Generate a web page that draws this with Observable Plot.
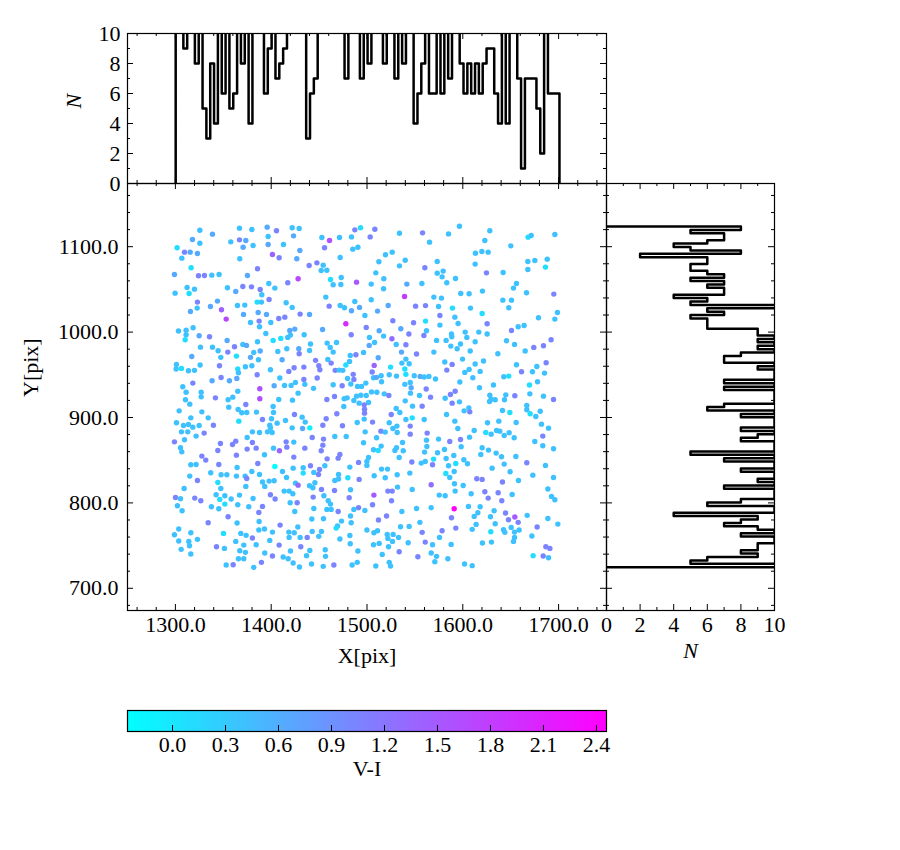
<!DOCTYPE html>
<html><head><meta charset="utf-8">
<script src="https://cdn.jsdelivr.net/npm/d3@7"></script>
<script src="https://cdn.jsdelivr.net/npm/@observablehq/plot@0.6"></script>
<style>
html,body{margin:0;padding:0;background:#fff;}
#fig{position:relative;width:900px;height:850px;}
#fig svg{position:absolute;left:0;top:0;}
</style></head><body><div id="fig"></div>
<script>
// ---------- DATA ----------
// stars: [X pix, Y pix, V-I]
const stars = [
[1325.5,1119.3,.4],[1338.7,1114.7,.65],[1366.9,1121.7,.4],[1379.8,1120.1,.4],[1395.8,1122.9,.65],[1405.5,1118.6,1.05],[1421.9,1122.1,.4],[1429.2,1121.3,.4],
[1317.8,1108.4,.65],[1325.5,1104.1,.4],[1357.8,1105.7,.4],[1366.9,1108.0,1.05],[1373.5,1107.3,.65],[1396.8,1111.9,.4],[1423.3,1112.7,.65],[1370.7,1099.4,.65],[1381.1,1101.4,.4],[1396.8,1102.6,.65],[1412.8,1102.6,.4],[1301.8,1098.7,.1],
[1309.5,1093.6,1.05],[1315.4,1093.6,.65],[1323.0,1092.0,.65],[1306.7,1086.6,.4],[1367.2,1085.8,.4],[1401.3,1090.9,1.4],[1408.3,1087.0,1.05],[1426.7,1085.8,.65],[1429.9,1095.5,.65],
[1316.4,1075.3,.1],[1299.0,1067.5,.65],[1324.1,1065.9,1.05],[1330.3,1066.3,1.05],[1338.0,1066.7,.4],[1345.6,1067.5,.4],[1375.2,1066.3,.65],[1385.7,1074.1,1.05],[1428.1,1062.4,1.7],[1417.3,1057.7,1.05],
[1312.2,1052.3,.4],[1319.9,1050.3,.4],[1299.7,1045.6,.4],[1314.3,1045.2,.1],[1354.3,1051.9,.4],[1363.0,1047.6,.65],[1370.4,1053.4,1.05],[1379.4,1053.0,1.05],[1388.5,1049.9,1.05],[1397.5,1056.9,.4],[1403.8,1051.5,.4],[1390.2,1043.7,.4],
[1323.0,1035.1,1.05],[1322.7,1028.1,.4],[1315.7,1024.2,.65],[1336.6,1030.0,.65],[1343.9,1036.3,.65],[1348.1,1026.1,1.4],[1364.8,1031.2,.4],[1372.4,1031.6,.4],[1385.3,1035.1,.1],[1389.8,1035.1,.4],[1397.8,1038.2,1.05],[1415.6,1034.3,.4],[1421.9,1028.9,.4],
[1371.1,1020.7,.65],[1386.4,1023.0,.65],[1395.1,1020.7,.65],[1430.2,1021.1,1.05],[1407.9,1016.0,1.05],[1414.2,1017.5,1.05],[1353.0,1015.2,1.7],
[1378.4,1011.3,.4],[1387.4,1012.9,1.05],[1399.6,1011.3,.4],[1387.8,1006.2,.4],[1318.5,1005.1,.4],[1303.2,1001.2,.4],[1311.2,1002.3,.4],[1311.2,996.9,.4],[1310.2,991.0,.1],[1324.8,995.7,.65],[1335.6,994.5,1.05],[1354.0,990.2,.65],[1394.4,998.4,.4],[1402.0,990.2,.1],[1410.0,992.6,.1],[1417.3,993.8,.4],[1420.1,996.5,.4],[1419.4,1002.0,.65],[1424.6,1003.5,.65],
[1370.4,985.6,.4],[1374.2,984.4,.65],[1385.7,988.7,.4],[1326.2,982.4,.4],[1338.7,982.4,.4],[1344.6,978.2,.4],[1361.7,982.8,1.05],[1354.7,976.6,1.05],[1381.8,976.2,.4],[1388.5,977.8,.65],[1406.9,977.4,.4],[1416.3,980.5,.4],[1428.8,980.5,.65],[1429.2,974.7,1.05],[1363.7,971.9,.1],[1347.4,970.4,.4],[1317.1,971.5,.65],[1378.4,970.4,.65],[1386.7,967.6,.4],[1411.4,967.6,.65],
[1301.1,962.2,.4],[1300.8,956.7,.4],[1306.3,957.5,.1],[1313.6,954.8,.4],[1319.9,955.2,.4],[1325.8,961.4,.4],[1346.0,960.6,1.05],[1365.1,956.7,.1],[1365.8,952.4,.4],[1373.1,959.4,.4],[1379.8,960.6,.4],[1399.2,955.9,.4],[1418.4,954.0,1.05],[1423.9,958.3,1.05],[1385.3,950.1,1.05],[1409.0,946.2,.4],
[1307.7,936.0,.4],[1318.2,940.3,1.05],[1338.3,943.1,.65],[1347.7,946.9,1.05],[1356.4,943.1,.65],[1364.1,945.8,.65],[1403.1,937.2,.65],[1413.9,937.6,.4],[1420.8,937.6,.4],[1425.3,941.1,.4],[1388.1,933.7,1.6],
[1487.3,1119.7,1.05],[1493.2,1122.1,.1],[1508.2,1120.5,1.05],[1533.9,1115.8,.4],[1558.0,1116.2,1.05],[1452.9,1110.8,.4],[1460.9,1107.3,1.6],[1471.3,1110.8,.4],[1483.8,1111.5,.4],[1503.3,1111.5,1.05],[1565.3,1105.3,.4],
[1455.7,1098.7,1.05],[1485.2,1097.1,.4],[1490.5,1099.4,.4],[1519.3,1090.5,.4],[1526.3,1093.6,.4],[1472.0,1087.4,.4],[1512.4,1082.3,.4],[1539.9,1084.2,.4],[1533.9,1077.6,.4],[1573.3,1082.7,.4],[1447.7,1081.1,1.05],[1439.6,1078.0,1.05],[1454.3,1078.4,.4],[1452.2,1072.2,.4],[1458.1,1072.5,.4],[1560.4,1075.3,1.05],[1573.3,1069.0,.4],
[1461.9,1061.6,.1],[1473.1,1064.0,.4],[1464.7,1055.4,.4],[1472.7,1055.8,.4],[1489.1,1058.5,1.5],[1504.4,1056.2,.4],[1509.2,1069.4,.4],[1517.6,1062.4,.4],[1517.3,1050.7,.4],[1541.6,1056.2,.65],[1557.3,1056.9,.4],
[1457.0,1041.0,.4],[1460.5,1030.4,1.05],[1472.0,1031.2,.4],[1476.5,1028.5,.4],[1487.3,1035.9,.4],[1492.2,1028.9,.65],[1504.4,1037.8,.4],[1483.8,1025.0,.65],[1497.8,1019.5,.4],[1511.0,1024.6,.65],[1522.1,1031.2,.65],[1539.2,1041.7,1.8],[1550.7,1030.4,1.05],[1561.1,1031.0,1.05],[1569.8,1041.0,.4],[1574.7,1030.0,.4],[1576.1,1019.5,1.05],[1440.0,1020.7,.65],
[1477.9,1009.8,2.0],[1499.2,1005.5,1.05],[1483.5,996.9,1.05],[1453.6,1003.1,.65],[1434.4,996.9,.4],[1512.7,1001.6,.65],[1527.0,1013.3,1.05],[1535.3,1003.9,.65],[1548.6,1010.9,1.05],[1561.1,1012.9,.1],[1562.1,1001.6,.4],[1576.1,1008.2,.4],[1543.7,997.7,1.05],[1559.4,996.1,1.05],[1502.6,993.8,.4],[1517.3,995.3,.4],[1526.0,992.2,1.3],[1530.5,985.6,.4],[1540.6,985.2,1.05],[1551.7,974.3,1.05],[1569.8,976.6,.4],[1572.6,990.3,.4],
[1458.4,987.1,.4],[1468.2,987.9,.4],[1441.0,986.0,.4],[1440.0,978.5,.4],[1461.6,982.1,.4],[1464.7,976.6,.4],[1496.4,976.2,.4],[1482.5,972.7,.4],[1488.4,973.5,1.05],[1502.3,984.4,.65],[1507.9,987.9,.4],[1511.7,970.0,.65],[1536.0,976.6,.65],
[1446.3,966.9,1.05],[1459.1,968.0,.4],[1462.6,963.7,1.05],[1449.7,960.6,1.05],[1450.8,955.9,1.05],[1434.1,959.0,1.05],[1477.9,961.4,.1],[1481.8,965.7,.4],[1466.8,955.2,1.05],[1471.0,955.5,.4],[1474.8,955.2,.4],[1507.5,961.0,1.4],[1505.4,953.2,1.05],[1524.6,959.0,.1],[1536.4,963.7,.4],[1540.6,968.4,.4],[1544.0,962.9,.4],[1539.5,956.7,.1],[1540.6,950.5,.1],
[1448.0,946.2,1.05],[1434.1,944.6,1.05],[1435.1,938.8,.4],[1444.2,934.1,.4],[1464.7,938.4,.4],[1474.1,937.2,1.05],[1479.7,945.8,.4],[1485.6,950.5,1.05],[1486.3,944.6,1.05],[1483.1,939.2,.4],[1490.1,936.4,.4],[1494.3,936.4,.4],[1498.8,940.3,.4],[1506.8,946.6,.4],[1509.9,947.0,.65],[1514.8,948.9,.4],[1515.2,941.9,.4],[1523.2,950.1,.4],[1530.8,948.5,.4],[1539.5,938.8,.4],[1545.1,941.1,.4],[1549.3,948.9,.4],[1555.5,948.1,.65],[1559.7,947.4,.4],[1564.6,948.1,.4],[1571.5,945.0,.4],[1546.1,934.9,.65],[1561.8,933.3,1.05],
[1596.5,1124.0,.4],[1585.1,1115.0,.4],[1628.2,1118.6,.4],[1623.0,1107.3,.4],[1668.2,1111.2,.1],[1671.4,1113.1,.4],[1696.1,1114.3,.4],[1650.1,1101.0,.4],[1613.2,1092.4,.4],[1619.9,1094.4,.4],[1626.5,1093.6,.4],[1612.9,1079.6,.4],[1579.5,1071.4,.4],[1578.4,1064.7,.4],[1592.4,1062.8,.4],[1583.3,1057.7,.4],[1624.7,1069.4,1.05],[1642.1,1069.8,.4],[1667.9,1082.7,.4],[1675.2,1083.9,.4],[1688.1,1085.4,.4],[1667.9,1073.3,.4],[1686.3,1076.1,.1],[1656.0,1056.9,.4],[1652.9,1051.5,.4],
[1597.9,1045.2,.4],[1606.6,1044.9,.4],[1620.5,1048.0,.4],[1577.7,1039.8,.4],[1641.8,1037.4,.4],[1650.8,1037.4,.4],[1666.5,1046.0,.4],[1695.0,1044.5,1.05],[1648.0,1028.5,.4],[1589.2,1028.1,.1],[1608.0,1028.1,.4],[1620.2,1021.8,.1],[1698.8,1023.0,.4],[1679.0,1016.8,.4],[1696.1,1015.2,.4],
[1591.7,1017.5,.4],[1595.1,1010.1,.4],[1625.4,1009.8,1.05],[1588.2,997.7,.4],[1588.5,994.5,.4],[1602.5,1000.0,.4],[1604.2,993.8,.4],[1616.7,1000.0,.4],[1625.4,997.7,.4],[1650.8,1001.9,1.05],[1657.8,1006.2,.4],[1664.0,1007.8,.4],
[1582.6,990.3,.4],[1587.5,983.6,.4],[1594.1,980.5,.4],[1597.6,986.0,.4],[1612.9,988.7,.4],[1607.7,977.8,.4],[1645.6,989.9,.4],[1654.0,985.6,.4],[1636.6,974.7,.4],[1665.1,977.8,.4],[1674.1,982.1,1.05],[1684.2,984.0,1.05],[1692.2,991.0,1.05],
[1581.2,964.9,.4],[1588.9,962.2,1.05],[1583.3,955.5,1.05],[1599.7,968.4,.4],[1612.9,962.6,.4],[1621.6,966.1,.4],[1656.0,961.8,.4],[1677.3,959.8,.4],[1687.0,964.1,1.05],[1602.1,952.8,.4],[1606.6,956.3,.4],[1610.5,946.6,.4],[1618.1,954.0,.4],[1661.3,953.6,1.05],[1672.7,953.6,.4],[1685.3,952.0,.4],[1642.8,947.7,.4],[1648.0,948.5,.1],[1596.9,941.5,.4],[1632.0,938.0,.4],[1617.4,934.9,.4],[1669.6,938.0,.1],[1678.0,941.9,.4],
[1311.2,929.6,.4],[1326.9,929.6,.4],[1326.9,924.2,.4],[1310.5,920.7,.4],[1315.0,915.6,.4],[1341.8,923.0,1.05],[1355.0,920.7,.4],[1359.9,923.8,.4],[1365.1,930.8,.4],[1388.1,921.9,1.6],[1407.9,921.1,.4],[1422.2,920.3,.4],[1428.1,928.5,.4],
[1303.9,907.8,.4],[1327.6,906.6,.4],[1355.7,912.1,.4],[1365.5,909.4,.4],[1369.3,905.5,.4],[1374.5,905.9,.4],[1373.5,915.2,1.05],[1384.6,906.3,.4],[1402.0,912.9,.4],[1402.4,905.9,.4],[1424.3,903.5,1.05],[1334.2,899.6,.4],[1316.1,899.6,.4],[1366.2,895.7,.1],[1390.9,897.7,1.05],[1400.3,898.5,.4],[1406.2,893.4,.4],[1414.9,896.5,.4],
[1301.1,893.8,.4],[1308.4,890.6,.4],[1313.6,891.8,.4],[1318.2,888.7,.4],[1324.8,890.6,.4],[1339.7,891.0,1.05],[1306.3,883.2,.4],[1312.9,883.2,.4],[1321.6,878.2,.4],[1330.0,881.7,1.05],[1398.5,891.0,.4],[1399.2,887.9,.4],[1421.9,887.9,.4],
[1299.0,871.5,1.05],[1309.5,873.9,.4],[1347.0,869.6,1.05],[1359.6,868.4,1.05],[1363.0,872.3,1.05],[1374.9,876.6,.4],[1380.4,883.2,.4],[1387.8,882.5,.4],[1396.1,883.2,.4],[1401.0,882.5,.4],[1380.4,870.8,1.05],[1415.6,871.5,1.05],[1423.6,871.2,.4],
[1305.3,864.5,.4],[1306.7,859.8,.4],[1344.3,861.4,1.05],[1374.9,863.0,1.05],[1384.3,864.1,1.05],[1393.0,856.3,.4],[1402.4,864.1,.4],[1408.6,861.0,1.4],[1416.3,865.3,1.05],[1423.6,853.6,1.05],
[1327.6,854.8,1.05],[1331.7,850.1,1.05],[1363.7,855.9,1.05],[1316.1,844.6,.4],[1321.6,845.0,.4],[1345.3,845.0,1.05],[1364.4,841.5,.4],[1386.0,846.2,1.05],[1403.8,842.7,-0.255],[1422.9,840.7,.4],
[1323.0,826.3,1.05],[1336.9,835.3,.4],[1347.7,832.9,.4],[1353.7,832.9,.4],[1363.7,831.4,.4],[1372.8,831.4,.4],[1374.5,828.6,1.05],[1379.8,836.8,.4],[1387.8,833.3,.4],[1411.8,836.8,.4],[1416.0,829.8,.4],[1315.0,831.4,.4],
[1344.3,824.0,.1],[1347.4,816.9,.4],[1342.5,809.5,.4],[1351.6,808.4,.4],[1346.3,804.1,.1],[1345.3,793.1,.4],[1351.6,798.6,.1],[1358.2,804.5,.4],[1366.9,809.1,.4],[1373.5,819.3,.4],[1390.9,824.4,.4],[1393.3,819.3,.4],[1397.8,825.5,.4],[1403.1,825.9,.4],[1399.2,809.5,1.05],[1404.1,804.5,1.05],[1390.9,795.9,1.05],[1387.1,788.9,1.05],[1376.6,795.5,.4],[1365.1,797.8,.4],[1381.1,805.2,.4],[1309.1,816.9,.4],[1300.1,806.4,1.05],[1305.3,804.9,.4],[1302.1,796.7,.4],[1307.0,790.8,.4],[1320.2,805.6,1.05],[1326.5,802.5,1.05],[1337.6,795.5,.4],[1413.5,813.8,.4],[1418.7,813.8,.4],[1422.6,810.7,.4],[1425.3,823.2,.4],[1428.1,820.8,1.3],[1419.8,800.2,.4],[1427.1,800.2,1.05],[1424.6,790.0,.4],
[1355.0,783.8,1.05],[1334.2,776.8,1.05],[1364.4,776.4,.4],[1387.4,778.3,.4],[1368.3,764.3,.4],[1373.8,762.0,.4],[1380.4,758.9,1.05],[1387.1,768.2,.4],[1393.0,769.4,.4],[1401.3,765.8,.4],[1409.3,774.0,1.05],[1418.4,765.8,.4],[1418.7,759.6,.4],[1424.0,765.1,.4],[1427.8,771.7,.4],[1430.2,759.6,.4],[1350.2,764.3,.1],[1303.5,769.4,.4],[1299.0,762.7,.4],[1316.1,765.1,.4],[1303.5,755.3,.4],[1314.0,754.9,.4],[1314.7,749.9,.4],[1323.0,757.3,.4],[1306.0,745.6,.4],[1316.1,740.1,.4],[1342.9,748.7,1.05],[1351.2,746.7,.4],[1363.0,754.9,.4],[1371.4,750.6,.4],[1367.2,744.0,.4],[1373.1,742.1,.4],[1365.8,734.6,.4],[1371.4,734.6,.4],[1384.3,751.0,.4],[1393.3,741.3,.4],[1398.5,756.1,.4],[1401.3,737.8,1.05],[1408.3,750.6,1.05],[1412.5,736.6,.4],[1417.7,734.6,.4],[1420.1,743.6,.4],[1422.9,729.6,.4],[1429.5,724.9,.4],[1430.9,748.7,1.05],[1353.0,727.2,.4],[1360.3,727.6,1.05],[1381.8,724.5,.4],[1389.8,730.4,1.05],
[1458.1,921.1,1.05],[1466.1,924.6,1.05],[1476.2,921.9,.4],[1479.3,923.0,.4],[1486.3,919.9,.4],[1489.1,925.0,.4],[1493.6,926.1,.4],[1499.2,925.8,.4],[1504.7,930.0,.4],[1510.3,929.6,.4],[1518.0,927.7,.4],[1522.8,925.8,1.05],[1491.8,916.8,.4],[1501.6,917.6,.4],[1475.8,912.9,.4],[1497.1,914.8,1.05],[1497.4,909.8,1.05],[1468.5,904.3,1.05],[1497.4,905.1,1.05],[1457.4,898.5,1.05],[1435.5,894.6,.4],[1432.3,900.4,.4],[1440.3,887.9,-0.1],[1453.9,891.0,1.05],[1474.4,890.3,1.05],[1489.8,894.2,.4],[1497.1,898.1,.4],[1505.8,894.6,1.05],[1523.2,893.8,.4],[1530.5,910.5,.4],[1534.3,905.9,.4],[1525.3,903.5,1.05],[1540.6,897.7,.4],[1547.2,899.6,.1],[1539.9,919.5,.4],[1545.4,928.5,.4],[1554.8,925.8,.4],[1566.3,923.8,1.05],[1547.5,913.3,.4],[1557.6,913.3,1.05],[1559.7,897.7,.4],[1545.1,889.9,1.05],[1545.1,880.5,1.05],[1562.8,881.7,1.05],[1574.7,874.7,.4],
[1432.7,887.1,.65],[1442.8,876.6,1.05],[1454.6,874.7,1.05],[1453.9,867.6,1.05],[1452.2,861.0,1.05],[1435.1,864.1,1.05],[1466.4,877.8,.4],[1478.3,877.8,.4],[1498.1,883.2,.4],[1514.5,884.0,1.05],[1519.0,882.9,.4],[1527.0,887.1,.4],[1531.2,889.9,.4],[1531.5,882.5,.4],[1510.0,876.2,.4],[1496.4,870.4,.4],[1514.8,866.5,.4],[1506.8,862.2,.4],[1511.7,861.4,.1],[1530.8,864.5,.4],[1537.1,870.8,.4],[1529.1,861.4,.4],[1533.6,853.2,.4],[1537.8,861.0,.4],[1562.1,873.5,.4],[1562.5,866.1,.4],[1560.1,859.5,.4],[1573.6,858.7,.4],[1569.5,851.3,.1],
[1471.7,856.7,1.05],[1469.9,852.4,1.05],[1458.4,851.6,1.05],[1456.0,843.5,.4],[1450.4,839.2,1.05],[1449.4,833.3,1.05],[1444.5,835.7,.4],[1441.0,843.5,1.05],[1433.4,841.1,.4],[1433.4,834.9,.1],[1501.6,853.2,.4],[1499.9,848.5,.4],[1491.2,847.4,1.05],[1499.9,843.9,.4],[1482.1,841.9,.4],[1470.3,833.3,.4],[1470.3,827.9,.4],[1466.4,826.3,.4],[1466.1,814.6,1.05],[1480.0,829.4,.1],[1491.8,827.5,1.05],[1507.5,831.8,.4],[1515.2,839.6,.4],[1521.4,839.6,.4],[1519.0,829.4,.4],[1531.5,832.9,.4],[1544.7,834.9,.4],[1546.8,847.8,1.05],[1556.6,846.6,.4],[1560.8,848.5,.4],[1568.4,844.6,1.05],[1567.0,821.2,1.3],[1440.0,820.1,.4],[1443.5,817.7,.4],[1445.6,823.6,.4],
[1452.5,815.8,1.05],[1443.8,806.8,1.05],[1455.0,808.4,.4],[1459.5,802.5,.4],[1461.9,798.6,.4],[1458.1,792.4,.4],[1462.6,792.4,.4],[1444.5,793.5,.4],[1469.9,790.0,1.05],[1482.8,815.4,.4],[1481.4,806.0,1.05],[1521.8,813.8,1.05],[1526.3,813.8,1.05],[1531.9,818.5,.4],[1547.2,815.8,.4],[1525.6,802.5,1.05],[1507.2,809.1,1.5],[1505.8,797.8,1.05],[1491.2,794.3,1.05],[1486.3,792.4,.4],[1497.8,791.2,.4],[1482.8,784.6,.4],[1483.5,776.8,.4],[1473.4,778.7,.4],[1469.2,772.9,.4],[1467.8,770.5,.1],[1442.4,781.1,.4],[1454.6,781.4,.4],[1452.5,766.6,.4],[1442.8,766.6,.4],[1437.6,759.6,1.05],[1449.7,760.8,.4],[1440.3,744.4,.4],[1436.9,738.2,.4],[1456.4,745.2,.4],[1456.7,737.4,.4],[1442.1,728.4,.4],[1454.3,725.7,.4],[1465.4,727.2,1.05],[1471.7,757.7,.4],[1482.1,761.9,.4],[1482.5,752.2,.4],[1490.5,743.6,.4],[1489.8,730.4,.4],[1484.5,727.2,.4],[1499.9,768.2,.4],[1507.2,765.1,.4],[1511.0,767.4,.4],[1506.8,751.0,.4],[1512.7,752.6,.4],[1521.1,763.1,.4],[1527.3,763.1,.4],[1521.8,758.4,.4],[1526.6,754.9,.4],[1532.9,759.6,.4],[1522.5,748.7,.4],[1515.9,739.7,.4],[1533.6,742.8,1.05],[1523.2,730.4,.4],[1524.6,726.1,.4],[1509.2,726.1,.4],[1512.0,779.9,1.05],[1520.4,784.6,1.05],[1536.4,790.0,.4],[1551.7,793.5,.4],[1567.0,794.3,.4],[1575.4,809.1,.4],[1555.2,777.2,.4],[1535.0,772.1,.4],[1544.0,772.5,.4],[1557.6,765.5,1.05],[1560.8,754.1,1.05],[1568.4,751.0,.4],[1575.7,759.6,.4],[1543.0,753.4,.4],[1553.1,737.0,1.05],[1567.0,741.3,.4],[1572.6,737.4,.4],[1570.8,731.1,.4],
[1581.6,922.6,.4],[1587.1,926.9,1.05],[1592.0,930.8,1.05],[1588.9,916.8,1.05],[1596.5,918.3,.4],[1628.2,926.1,.4],[1629.6,921.5,.4],[1633.8,920.7,.4],[1627.9,918.7,.4],[1643.5,920.7,.4],[1644.9,926.5,.4],[1654.3,925.4,1.05],[1670.0,927.7,.4],[1684.2,925.0,.4],[1694.7,921.1,1.05],
[1583.0,903.5,.4],[1601.4,907.8,.4],[1606.3,911.3,.4],[1607.3,906.6,1.05],[1641.4,908.2,.4],[1649.1,905.9,.1],[1666.8,914.1,.4],[1666.8,909.0,.4],[1670.3,904.3,.1],[1676.2,901.2,.4],[1680.8,907.4,.4],[1591.7,895.7,.4],[1594.8,887.1,.4],[1611.9,884.8,.4],[1607.0,877.0,.4],[1624.0,882.5,.1],[1629.6,880.5,.4],[1625.8,893.8,.4],[1635.2,884.8,.4],[1638.6,884.0,.4],[1637.6,895.7,.4],[1643.2,878.9,.4],[1648.4,882.1,.4],[1653.6,876.2,.4],[1655.7,894.2,.4],[1682.1,892.2,.4],[1689.5,887.5,.4],[1683.5,878.2,1.05],[1675.2,871.9,.4],[1683.5,866.9,.4],[1694.7,863.4,.4],
[1586.4,871.9,1.05],[1597.6,874.3,1.05],[1598.3,865.7,.4],[1580.9,862.6,.4],[1620.2,864.5,.4],[1626.8,861.8,.4],[1618.8,856.7,.4],[1634.8,858.3,.4],[1640.4,854.0,.4],[1655.4,854.4,.4],[1582.6,852.0,.4],[1590.6,855.5,.4],[1585.1,843.5,.4],[1592.7,846.2,.1],[1601.1,850.5,.4],[1604.9,845.8,.4],[1582.3,834.5,.1],[1586.4,829.8,.4],[1591.0,836.8,.4],[1630.6,840.7,.4],[1643.2,845.4,.4],[1649.4,836.4,.4],[1666.8,847.0,1.05],[1673.1,832.5,.4],[1686.3,843.9,.4],[1694.7,829.8,.4],
[1614.6,828.2,1.05],[1620.2,827.5,1.05],[1641.4,824.4,1.05],[1658.1,826.3,.4],[1591.3,822.4,.4],[1600.4,820.4,.4],[1592.0,813.8,.4],[1581.6,808.4,.4],[1608.7,810.7,.4],[1623.0,813.0,1.05],[1636.9,811.9,1.05],[1626.5,805.6,1.05],[1640.7,802.5,1.05],[1651.5,809.9,.4],[1688.8,816.2,.4],[1692.6,807.6,.4],[1696.1,803.7,.4],
[1591.0,793.2,2.457],[1605.9,795.9,.4],[1618.1,795.5,.4],[1588.2,782.6,1.05],[1611.9,784.2,.4],[1615.7,788.5,.4],[1628.9,783.8,.4],[1632.7,790.8,.4],[1644.6,788.1,1.05],[1654.3,783.4,1.5],[1647.7,780.3,1.05],[1657.8,777.2,1.05],[1667.2,785.4,.4],[1613.9,774.8,.4],[1633.8,775.6,.4],[1592.7,770.5,1.05],[1578.4,767.4,1.05],[1609.8,769.0,.4],[1629.2,766.2,.1],[1642.5,768.6,.4],[1643.9,765.5,.4],[1650.5,771.3,.4],[1654.0,765.8,.4],[1658.8,768.2,.4],[1677.6,771.7,1.05],[1654.0,759.6,.4],[1652.9,754.9,.4],[1672.1,761.2,.4],[1688.8,781.8,.4],[1699.2,775.2,.4],[1587.8,751.4,.4],[1620.5,753.0,.4],[1629.9,754.1,.4],[1686.7,748.7,1.05],[1690.9,746.7,1.05],[1673.4,738.2,.1],[1683.9,737.8,1.05],[1689.5,735.8,.4],[1584.4,734.6,.4],[1601.8,728.4,.4],[1609.8,726.5,.4]
];

// Histogram of X (100 bins over the X range); values above 10 are clipped by the axes
const xHistRange = [1300.3, 1700.9];
const xHistCounts = [
12,12,9,12,12,8,12,5,3,8, 4,12,6,12,5,6,12,8,12,4,
12,12,12,6,9,12,7,8,9,12, 12,12,12,12,3,6,7,12,12,12,
12,12,12,12,7,12,12,12,7,12, 8,12,12,12,8,12,12,7,12,8,
12,12,4,6,8,12,6,6,12,6, 12,7,12,12,8,6,8,6,8,6,
8,9,9,6,4,12,4,12,12,7, 1,7,7,7,5,2,12,6,6,6
];
// Histogram of Y (100 bins, listed from the top bin down)
const yHistRange = [724.7, 1123.6];
const yHistCountsFromTop = [
8,5,7,7,6,4,5,8,2,6, 6,5,5,6,7,5,7,6,7,7,
4,6,5,11,6,7,5,6,6,6, 9,9,10,9,10,9,10,8,7,7,
10,9,10,10,10,7,10,7,10,10, 10,10,7,6,10,8,10,10,10,8,
10,9,8,10,10,10,5,10,7,10, 10,8,10,10,9,10,7,10,10,10,
8,6,10,10,4,9,8,7,9,10, 8,10,10,9,9,8,9,6,5,11
];

const xMajor = [1300, 1400, 1500, 1600, 1700];
const yMajor = [700, 800, 900, 1000, 1100];
const nMajor = [0, 2, 4, 6, 8, 10];
const nMinor = [1, 3, 5, 7, 9];
const cbTicks = [0.0, 0.3, 0.6, 0.9, 1.2, 1.5, 1.8, 2.1, 2.4];

// ---------- LAYOUT ----------
const FONT = "'Liberation Serif', 'DejaVu Serif', serif";
const FS = 22;
const W = 900, H = 850;
const TOP = {l:127, r:606, t:33, b:183};
const MAIN = {l:127, r:606, t:183, b:610};
const RIGHT = {l:606, r:774, t:183, b:610};
const CB = {l:127, r:606, t:710, b:731};
const xDomain = [1250, 1750], yDomain = [674, 1174];
const xMinor = d3.range(1260, 1750, 20).filter(v => v % 100 !== 0);
const yMinor = d3.range(680, 1174, 20).filter(v => v % 100 !== 0);
const MAJ = 6, MIN = 3;

function base(f) {
  return {
    width: W, height: H,
    marginLeft: f.l, marginRight: W - f.r, marginTop: f.t, marginBottom: H - f.b,
    style: {background: "none", fontFamily: FONT, fontSize: FS + "px", color: "black", overflow: "visible"}
  };
}
function xTicks(vals, len, f) {
  const h = f.b - f.t;
  return [
    Plot.tickX(vals, {x: d => d, stroke: "black", strokeWidth: 1, insetTop: h - len}),
    Plot.tickX(vals, {x: d => d, stroke: "black", strokeWidth: 1, insetBottom: h - len})
  ];
}
function yTicks(vals, len, f) {
  const w = f.r - f.l;
  return [
    Plot.tickY(vals, {y: d => d, stroke: "black", strokeWidth: 1, insetRight: w - len}),
    Plot.tickY(vals, {y: d => d, stroke: "black", strokeWidth: 1, insetLeft: w - len})
  ];
}

const viExtent = d3.extent(stars, d => d[2]);
const colorOpt = {type: "linear", domain: viExtent, range: ["#00ffff", "#ff00ff"], interpolate: "rgb"};

// step outlines
const xw = (xHistRange[1] - xHistRange[0]) / xHistCounts.length;
const topStep = [{x: xHistRange[0], n: 0}];
xHistCounts.forEach((c, i) => {
  topStep.push({x: xHistRange[0] + i * xw, n: c}, {x: xHistRange[0] + (i + 1) * xw, n: c});
});
topStep.push({x: xHistRange[1], n: 0});

const yw = (yHistRange[1] - yHistRange[0]) / yHistCountsFromTop.length;
const rightStep = [{y: yHistRange[1], n: 0}];
yHistCountsFromTop.forEach((c, k) => {
  rightStep.push({y: yHistRange[1] - k * yw, n: c}, {y: yHistRange[1] - (k + 1) * yw, n: c});
});
rightStep.push({y: yHistRange[0], n: 0});

const fig = document.getElementById("fig");

// main scatter
fig.appendChild(Plot.plot({
  ...base(MAIN),
  x: {domain: xDomain, axis: null},
  y: {domain: yDomain, axis: null},
  color: colorOpt,
  marks: [
    Plot.dot(stars, {x: d => d[0], y: d => d[1], fill: d => d[2], r: 2.7}),
    Plot.frame({stroke: "black", strokeWidth: 1.2}),
    ...xTicks(xMajor, MAJ, MAIN), ...xTicks(xMinor, MIN, MAIN),
    ...yTicks(yMajor, MAJ, MAIN), ...yTicks(yMinor, MIN, MAIN),
    Plot.text(xMajor, {x: d => d, frameAnchor: "bottom", lineAnchor: "top", dy: 6, text: d => d.toFixed(1), fontSize: FS}),
    Plot.text(yMajor, {y: d => d, frameAnchor: "left", textAnchor: "end", dx: -9, text: d => d.toFixed(1), fontSize: FS}),
    Plot.text(["X[pix]"], {frameAnchor: "bottom", dy: 52, text: d => d, fontSize: FS}),
    Plot.text(["Y[pix]"], {frameAnchor: "left", dx: -97, rotate: -90, text: d => d, fontSize: FS})
  ]
}));

// top histogram
fig.appendChild(Plot.plot({
  ...base(TOP),
  x: {domain: xDomain, axis: null},
  y: {domain: [0, 10], axis: null},
  marks: [
    Plot.line(topStep, {x: "x", y: "n", stroke: "black", strokeWidth: 2.5, clip: true}),
    Plot.frame({stroke: "black", strokeWidth: 1.2}),
    ...xTicks(xMajor, MAJ, TOP), ...xTicks(xMinor, MIN, TOP),
    ...yTicks(nMajor, MAJ, TOP), ...yTicks(nMinor, MIN, TOP),
    Plot.text(nMajor, {y: d => d, frameAnchor: "left", textAnchor: "end", dx: -7, text: d => String(d), fontSize: FS}),
    Plot.text(["N"], {frameAnchor: "left", dx: -54, rotate: -90, text: d => d, fontSize: FS, fontStyle: "italic"})
  ]
}));

// right histogram
fig.appendChild(Plot.plot({
  ...base(RIGHT),
  x: {domain: [0, 10], axis: null},
  y: {domain: yDomain, axis: null},
  marks: [
    Plot.line(rightStep, {x: "n", y: "y", stroke: "black", strokeWidth: 2.5, clip: true}),
    Plot.frame({stroke: "black", strokeWidth: 1.2}),
    ...xTicks(nMajor, MAJ, RIGHT), ...xTicks(nMinor, MIN, RIGHT),
    ...yTicks(yMajor, MAJ, RIGHT), ...yTicks(yMinor, MIN, RIGHT),
    Plot.text(nMajor, {x: d => d, frameAnchor: "bottom", lineAnchor: "top", dy: 6, text: d => String(d), fontSize: FS}),
    Plot.text(["N"], {frameAnchor: "bottom", dy: 47, text: d => d, fontSize: FS, fontStyle: "italic"})
  ]
}));

// colorbar
const cbN = 300;
const cbStep = (viExtent[1] - viExtent[0]) / cbN;
const cbVals = d3.range(cbN).map(i => viExtent[0] + (i + 0.5) * cbStep);
fig.appendChild(Plot.plot({
  ...base(CB),
  x: {domain: viExtent, axis: null},
  y: {domain: [0, 1], axis: null},
  color: colorOpt,
  marks: [
    Plot.rect(cbVals, {x1: d => Math.max(viExtent[0], d - cbStep), x2: d => Math.min(viExtent[1], d + cbStep), y1: 0, y2: 1, fill: d => d, shapeRendering: "crispEdges"}),
    Plot.frame({stroke: "black", strokeWidth: 1.2}),
    Plot.tickX(cbTicks, {x: d => d, stroke: "black", strokeWidth: 1, insetTop: (CB.b - CB.t) - 6}),
    Plot.text(cbTicks, {x: d => d, frameAnchor: "bottom", lineAnchor: "top", dy: 5, text: d => d.toFixed(1), fontSize: FS}),
    Plot.text(["V-I"], {frameAnchor: "bottom", dy: 44, text: d => d, fontSize: FS})
  ]
}));
</script></body></html>
